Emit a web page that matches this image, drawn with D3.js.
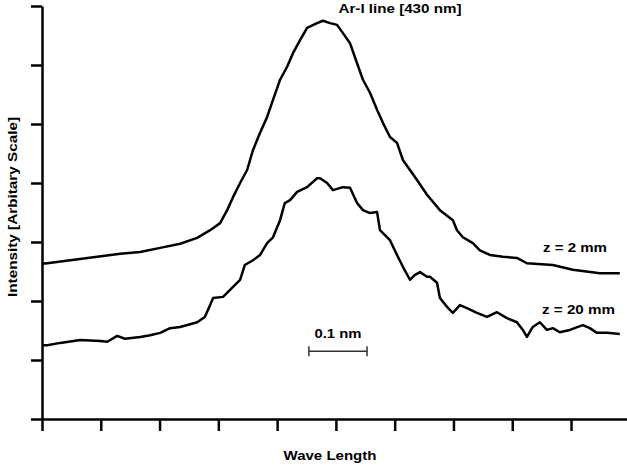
<!DOCTYPE html>
<html>
  <head>
    <meta charset="utf-8" />
    <title>Ar-I line</title>
    <script src="https://d3js.org/d3.v7.min.js"></script>
    <style>
      body {
        margin: 0;
        background: #fff;
      }
      svg {
        font-family: "Liberation Sans", Arial, sans-serif;
        font-weight: bold;
        font-size: 12.5px;
      }
      .axis path,
      .axis line {
        stroke: #000;
        stroke-width: 2.5;
      }
      .curve {
        fill: none;
        stroke: #000;
        stroke-width: 2.5;
        stroke-linejoin: round;
      }
    </style>
  </head>
  <body>
    <div id="chart"></div>
    <script>
      // spectra, x in tick units along wavelength, y in tick units of intensity
      const upperX = [0, 0.09, 0.48, 0.94, 1.33, 1.67, 2.01, 2.35, 2.64, 2.86, 3.03, 3.15, 3.25, 3.37, 3.49, 3.59, 3.71, 3.83, 3.93, 4.05, 4.17, 4.27, 4.39, 4.51, 4.68, 4.78, 4.9, 5.02, 5.12, 5.24, 5.36, 5.46, 5.58, 5.7, 5.8, 5.92, 6.04, 6.14, 6.26, 6.38, 6.55, 6.77, 6.99, 7.06, 7.16, 7.33, 7.45, 7.62, 7.84, 8.08, 8.25, 8.69, 9.03, 9.49, 9.83];
      const upperY = [2.63, 2.64, 2.69, 2.75, 2.8, 2.83, 2.9, 2.97, 3.07, 3.2, 3.32, 3.54, 3.76, 4.0, 4.22, 4.56, 4.85, 5.12, 5.41, 5.75, 5.97, 6.2, 6.42, 6.63, 6.71, 6.75, 6.71, 6.68, 6.54, 6.37, 6.03, 5.75, 5.53, 5.24, 5.02, 4.78, 4.68, 4.39, 4.22, 4.05, 3.8, 3.54, 3.37, 3.2, 3.08, 2.98, 2.86, 2.78, 2.75, 2.73, 2.64, 2.61, 2.53, 2.47, 2.47];

      const lowerX = [0, 0.09, 0.31, 0.65, 0.99, 1.11, 1.28, 1.41, 1.67, 1.84, 2.01, 2.18, 2.35, 2.64, 2.77, 2.86, 2.91, 3.08, 3.25, 3.37, 3.45, 3.59, 3.71, 3.83, 3.93, 4.05, 4.13, 4.22, 4.34, 4.51, 4.68, 4.73, 4.85, 4.95, 5.12, 5.24, 5.36, 5.46, 5.58, 5.7, 5.75, 5.92, 6.04, 6.14, 6.26, 6.34, 6.43, 6.55, 6.6, 6.72, 6.77, 6.89, 6.99, 7.11, 7.23, 7.4, 7.57, 7.74, 7.91, 8.08, 8.18, 8.25, 8.35, 8.47, 8.59, 8.69, 8.81, 8.98, 9.2, 9.32, 9.44, 9.61, 9.83];
      const lowerY = [1.25, 1.25, 1.29, 1.34, 1.32, 1.31, 1.41, 1.36, 1.39, 1.42, 1.46, 1.54, 1.56, 1.64, 1.73, 1.93, 2.05, 2.07, 2.24, 2.36, 2.61, 2.69, 2.78, 2.98, 3.08, 3.37, 3.66, 3.71, 3.85, 3.93, 4.08, 4.08, 4.0, 3.88, 3.93, 3.92, 3.66, 3.54, 3.49, 3.51, 3.2, 3.03, 2.78, 2.58, 2.36, 2.44, 2.49, 2.41, 2.41, 2.31, 2.05, 1.9, 1.8, 1.93, 1.88, 1.8, 1.73, 1.81, 1.71, 1.64, 1.51, 1.39, 1.56, 1.64, 1.51, 1.54, 1.47, 1.51, 1.59, 1.54, 1.46, 1.46, 1.44];

      const xTicks = [0, 1, 2, 3, 4, 5, 6, 7, 8, 9, 10];
      const yTicks = [0, 1, 2, 3, 4, 5, 6, 7];
      const scaleBar = [4.54, 5.53]; // 0.1 nm
      const scaleBarY = 1.15;

      const width = 627;
      const height = 470;

      const x = d3.scaleLinear().domain([0, 10]).range([42, 629.8]);
      const y = d3.scaleLinear().domain([0, 7]).range([419, 6]);

      const svg = d3
        .select("#chart")
        .append("svg")
        .attr("width", width)
        .attr("height", height);

      // axes
      svg
        .append("g")
        .attr("class", "axis")
        .attr("transform", "translate(0,419)")
        .call(d3.axisBottom(x).tickValues(xTicks).tickSize(12).tickSizeOuter(0).tickFormat(""));

      svg
        .append("g")
        .attr("class", "axis")
        .attr("transform", "translate(42,0)")
        .call(d3.axisLeft(y).tickValues(yTicks).tickSize(11).tickSizeOuter(0).tickFormat(""));

      const line = d3
        .line()
        .x((d) => x(d[0]))
        .y((d) => y(d[1]));

      svg
        .append("path")
        .datum(d3.zip(upperX, upperY))
        .attr("class", "curve")
        .attr("d", line);

      svg
        .append("path")
        .datum(d3.zip(lowerX, lowerY))
        .attr("class", "curve")
        .attr("d", line);

      // scale bar
      const bar = svg.append("g").attr("stroke", "#333").attr("stroke-width", 1.5);
      bar
        .append("line")
        .attr("x1", x(scaleBar[0]))
        .attr("x2", x(scaleBar[1]))
        .attr("y1", y(scaleBarY))
        .attr("y2", y(scaleBarY));
      scaleBar.forEach((v) => {
        bar
          .append("line")
          .attr("x1", x(v))
          .attr("x2", x(v))
          .attr("y1", y(scaleBarY) - 5)
          .attr("y2", y(scaleBarY) + 5);
      });

      // text labels, stretched a little to match the wide bitmap font of the original
      function label(tx, ty, str, len, anchor) {
        return svg
          .append("text")
          .attr("x", tx)
          .attr("y", ty)
          .attr("text-anchor", anchor || "start")
          .attr("textLength", len)
          .attr("lengthAdjust", "spacingAndGlyphs")
          .text(str);
      }

      label(x((scaleBar[0] + scaleBar[1]) / 2), y(scaleBarY) - 13, "0.1 nm", 47, "middle");
      label(400, 13, "Ar-I line [430 nm]", 123, "middle");
      label(543, 252, "z = 2 mm", 64);
      label(542, 314, "z = 20 mm", 73);
      label(330, 460, "Wave Length", 93, "middle");
      label(0, 0, "Intensity [Arbitary Scale]", 180, "middle").attr(
        "transform",
        "translate(17,207) rotate(-90)"
      );
    </script>
  </body>
</html>
